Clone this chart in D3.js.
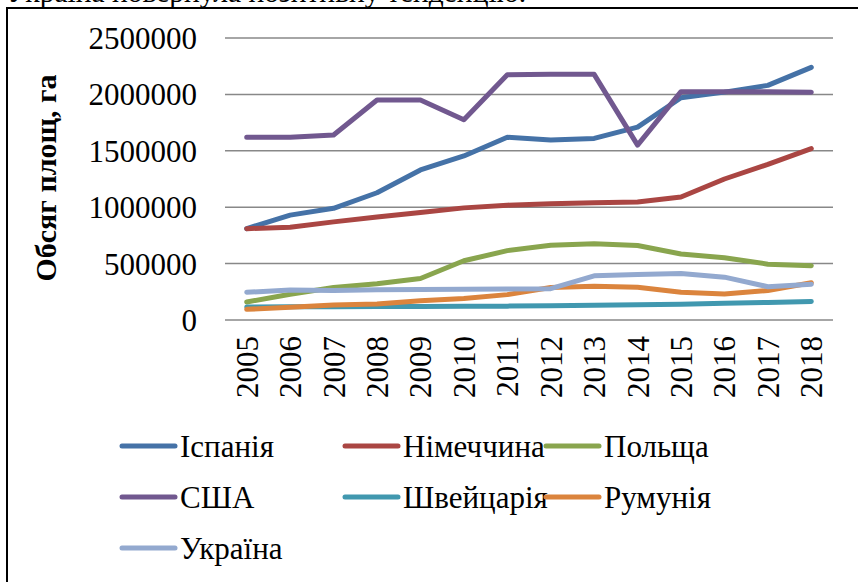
<!DOCTYPE html>
<html>
<head>
<meta charset="utf-8">
<script src="https://cdn.jsdelivr.net/npm/d3@7"></script>
<style>
  body { margin: 0; background: #fff; }
  svg text { font-family: "Liberation Serif", "Times New Roman", "DejaVu Serif", serif; fill: #000; }
</style>
</head>
<body>
<div id="chart"></div>
<script>
const years = ["2005", "2006", "2007", "2008", "2009", "2010", "2011", "2012", "2013", "2014", "2015", "2016", "2017", "2018"];
const yTicks = [0, 500000, 1000000, 1500000, 2000000, 2500000];

const spain = [810000, 930000, 990000, 1128000, 1330000, 1454000, 1620000, 1596000, 1610000, 1710000, 1970000, 2020000, 2080000, 2240000];
const germany = [810000, 822000, 870000, 914000, 953000, 994000, 1018000, 1030000, 1040000, 1046000, 1090000, 1250000, 1380000, 1520000];
const poland = [160000, 228000, 288000, 322000, 368000, 525000, 615000, 662000, 675000, 660000, 585000, 552000, 495000, 482000];
const usa = [1620000, 1620000, 1640000, 1950000, 1950000, 1775000, 2175000, 2178000, 2178000, 1550000, 2024000, 2024000, 2024000, 2020000];
const switzerland = [115000, 117000, 118000, 119000, 120000, 121000, 123000, 126000, 130000, 135000, 140000, 148000, 156000, 165000];
const romania = [95000, 112000, 133000, 142000, 170000, 190000, 225000, 288000, 300000, 290000, 246000, 230000, 262000, 330000];
const ukraine = [246000, 265000, 262000, 268000, 270000, 272000, 274000, 278000, 392000, 404000, 412000, 380000, 295000, 318000];

const seriesNames = ["Іспанія", "Німеччина", "Польща", "США", "Швейцарія", "Румунія", "Україна"];
const seriesValues = [spain, germany, poland, usa, switzerland, romania, ukraine];
const colors = ["#4572A7", "#AA4643", "#89A54E", "#71588F", "#4198AF", "#DB843D", "#93A9CF"];

const serif = "'Liberation Serif', 'Times New Roman', serif";
const W = 858, H = 582;
const svg = d3.select("#chart").append("svg")
    .attr("width", W)
    .attr("height", H)
    .attr("font-family", serif);

// sentence above the figure frame, cut by the page edge as in the source
svg.append("text")
    .attr("x", 7)
    .attr("y", 2)
    .style("font-family", serif)
    .style("font-size", "29.5px")
    .text("Україна повернула позитивну тенденцію.");

svg.append("rect")
    .attr("x", 7).attr("y", 8)
    .attr("width", 900).attr("height", 700)
    .attr("fill", "#fff")
    .attr("stroke", "#000")
    .attr("stroke-width", 2);

const plot = { left: 225, right: 833, top: 38, bottom: 320 };

const x = d3.scaleBand()
    .domain(years)
    .range([plot.left, plot.right]);

const y = d3.scaleLinear()
    .domain([0, 2500000])
    .range([plot.bottom, plot.top]);

// gridlines
svg.append("g")
    .selectAll("line")
    .data(yTicks)
    .join("line")
    .attr("x1", plot.left)
    .attr("x2", plot.right)
    .attr("y1", d => y(d))
    .attr("y2", d => y(d))
    .attr("stroke", "#888")
    .attr("stroke-width", 1.5);

// y axis labels
const yAxis = d3.axisLeft(y).tickValues(yTicks).tickSize(0).tickPadding(0).tickFormat(d3.format("d"));
const yg = svg.append("g")
    .attr("transform", "translate(197,0)")
    .call(yAxis)
    .attr("font-family", serif);
yg.select(".domain").remove();
yg.selectAll("text")
    .style("font-family", serif)
    .style("font-size", "31px")
    .attr("dy", "0.34em");

// x axis labels, rotated
const xAxis = d3.axisBottom(x).tickSize(0).tickPadding(0);
const xg = svg.append("g")
    .attr("transform", `translate(0,${plot.bottom})`)
    .call(xAxis)
    .attr("font-family", serif);
xg.select(".domain").remove();
xg.selectAll("text")
    .style("font-family", serif)
    .style("font-size", "31px")
    .attr("text-anchor", "end")
    .attr("transform", "translate(11,16) rotate(-90)")
    .attr("x", 0)
    .attr("y", 0)
    .attr("dy", 0);

// axis title
svg.append("text")
    .attr("transform", "translate(56,178) rotate(-90)")
    .attr("text-anchor", "middle")
    .style("font-family", serif)
    .style("font-size", "30px")
    .style("font-weight", "bold")
    .text("Обсяг площ, га");

const line = d3.line()
    .x((d, i) => x(years[i]) + x.bandwidth() / 2)
    .y(d => y(d));

svg.append("g")
    .selectAll("path")
    .data(seriesValues)
    .join("path")
    .attr("d", d => line(d))
    .attr("fill", "none")
    .attr("stroke", (d, i) => colors[i])
    .attr("stroke-width", 5)
    .attr("stroke-linecap", "round")
    .attr("stroke-linejoin", "round");

// legend
const legendCols = [122, 345, 546];
const legend = svg.append("g")
    .selectAll("g")
    .data(seriesNames)
    .join("g")
    .attr("transform", (d, i) => `translate(${legendCols[i % 3]},${446 + Math.floor(i / 3) * 51})`);

legend.append("line")
    .attr("x1", 0).attr("x2", 53)
    .attr("y1", 0).attr("y2", 0)
    .attr("stroke", (d, i) => colors[i])
    .attr("stroke-width", 5)
    .attr("stroke-linecap", "round");

legend.append("text")
    .attr("x", 58)
    .attr("y", 11)
    .style("font-family", serif)
    .style("font-size", "31px")
    .text(d => d);
</script>
</body>
</html>
